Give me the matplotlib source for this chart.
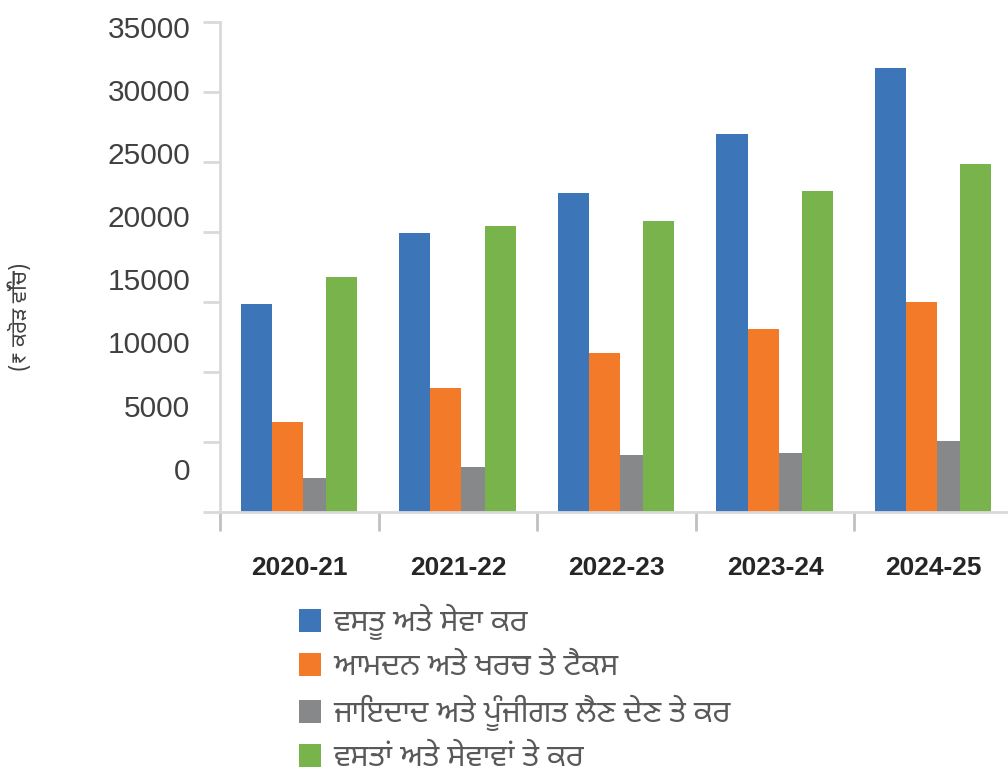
import numpy as np
import matplotlib
matplotlib.use('Agg')
import matplotlib.pyplot as plt

years = ['2020-21', '2021-22', '2022-23', '2023-24', '2024-25']
series_names = ['ਵਸਤੂ ਅਤੇ ਸੇਵਾ ਕਰ',
                'ਆਮਦਨ ਅਤੇ ਖਰਚ ਤੇ ਟੈਕਸ',
                'ਜਾਇਦਾਦ ਅਤੇ ਪੂੰਜੀਗਤ ਲੈਣ ਦੇਣ ਤੇ ਕਰ',
                'ਵਸਤਾਂ ਅਤੇ ਸੇਵਾਵਾਂ ਤੇ ਕਰ']
gst = [14860, 19940, 22790, 27030, 31750]
income = [6460, 8830, 11350, 13060, 15000]
property_tax = [2420, 3240, 4040, 4250, 5080]
goods_services = [16770, 20420, 20780, 22940, 24870]
ytick_values = [0, 5000, 10000, 15000, 20000, 25000, 30000, 35000]
ylabel = '(₹ ਕਰੋੜ ਵਿੱਚ)'

colors = ['#3d75b9', '#f27a28', '#87888a', '#78b34b']
gfam = ['Noto Sans Gurmukhi', 'Hind Jalandhar', 'DejaVu Sans']

fig = plt.figure(figsize=(10.08, 7.69), dpi=100)
ax = fig.add_axes([220 / 1008, 1 - 512 / 769, 793 / 1008, 490 / 769])

x = np.arange(len(years))
w = 0.196
ax.bar(x - 0.370, gst, w, align='edge', color=colors[0], label=series_names[0])
ax.bar(x - 0.174, income, w, align='edge', color=colors[1], label=series_names[1])
ax.bar(x + 0.022, property_tax, 0.146, align='edge', color=colors[2], label=series_names[2])
ax.bar(x + 0.168, goods_services, w, align='edge', color=colors[3], label=series_names[3])

ax.set_xlim(-0.5, 4.5)
ax.set_ylim(0, 35000)

for s in ['top', 'right']:
    ax.spines[s].set_visible(False)
ax.spines['left'].set_color('#d9d9d9')
ax.spines['left'].set_linewidth(2)
ax.spines['bottom'].set_color('#d9d9d9')
ax.spines['bottom'].set_linewidth(2)

# tick marks at the real values, labels sit a bit off like in the original
ax.set_yticks(ytick_values, labels=[''] * len(ytick_values))
ax.tick_params(axis='y', which='major', length=12, width=2, color='#d9d9d9')
label_pos = [3100 + 4505 * i for i in range(len(ytick_values))]
ax.set_yticks(label_pos, labels=[str(v) for v in ytick_values], minor=True)
ax.tick_params(axis='y', which='minor', length=0, pad=21.5, labelsize=21.5,
               labelcolor='#404040')
for t in ax.get_yticklabels(minor=True):
    t.set_fontfamily('Liberation Sans')

ax.set_xticks(np.arange(-0.5, 5.0, 1.0), labels=[''] * 6)
ax.tick_params(axis='x', which='major', length=14, width=2, color='#c0c0c0')
ax.set_xticks(x, labels=years, minor=True)
ax.tick_params(axis='x', which='minor', length=0, pad=32, labelsize=19,
               labelcolor='#262626')
for t in ax.get_xticklabels(minor=True):
    t.set_fontfamily('Liberation Sans')
    t.set_fontweight('bold')

fig.text(20 / 1008, 1 - 317 / 769, ylabel, rotation=90, ha='center', va='center',
         fontsize=15.5, style='italic', color='#404040', family=gfam)

leg = ax.legend(loc='upper left', bbox_to_anchor=(299 / 1008, 1 - 604 / 769),
                bbox_transform=fig.transFigure, frameon=False, ncol=1,
                handlelength=0.72, handleheight=0.78, handletextpad=0.4,
                labelspacing=0.40, borderaxespad=0, borderpad=0,
                prop={'family': gfam, 'size': 22})
for t in leg.get_texts():
    t.set_color('#595959')

fig.savefig('out.png', dpi=100)
